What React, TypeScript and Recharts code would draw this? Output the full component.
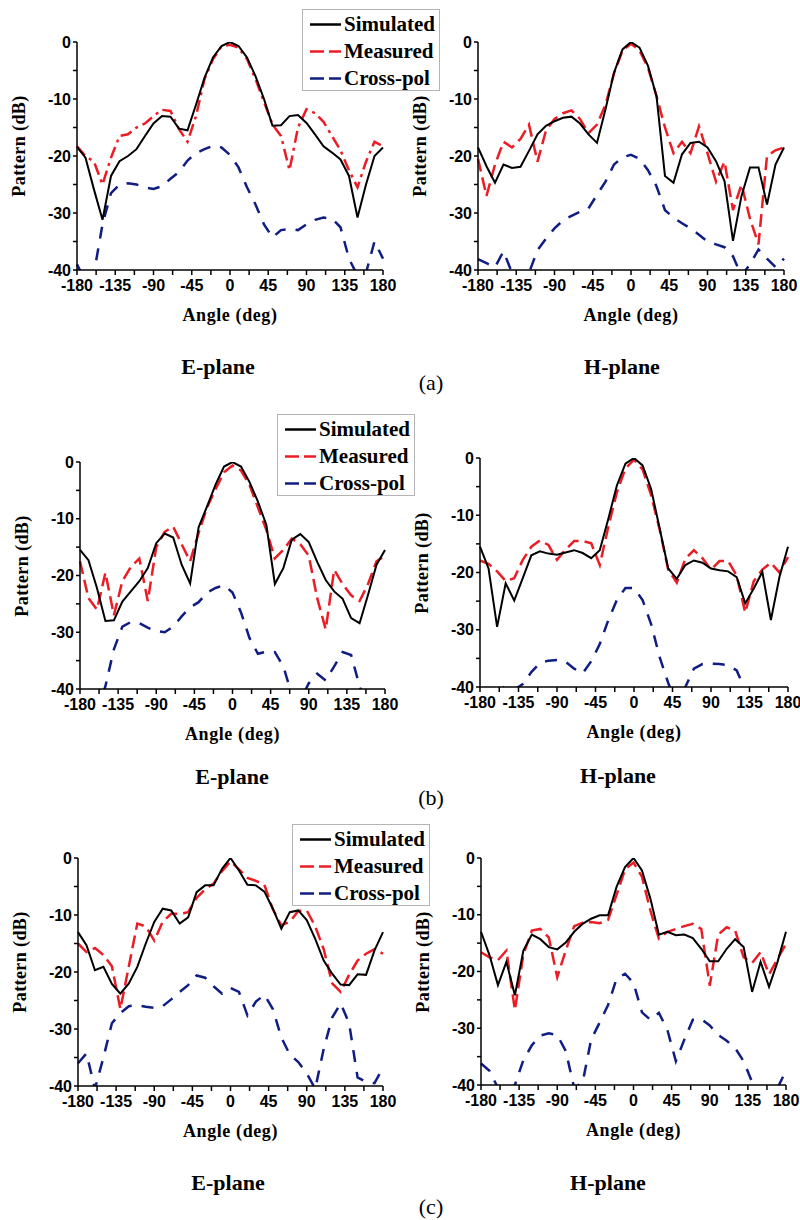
import React from 'react'
import { LineChart, Line, XAxis, YAxis } from 'recharts'

// angle in degrees, one sample every 10 deg
const angles = [
  -180, -170, -160, -150, -140, -130, -120, -110, -100, -90,
  -80, -70, -60, -50, -40, -30, -20, -10, 0,
  10, 20, 30, 40, 50, 60, 70, 80, 90,
  100, 110, 120, 130, 140, 150, 160, 170, 180,
]

const xTicks = [-180, -157.5, -135, -112.5, -90, -67.5, -45, -22.5, 0, 22.5, 45, 67.5, 90, 112.5, 135, 157.5, 180]
const yTicks = [-40, -35, -30, -25, -20, -15, -10, -5, 0]

// (a) E-plane
const aESim = [-18.4, -20.3, -25.9, -31.2, -23.5, -20.9, -20, -18.8, -16.5, -14.3, -13, -13.1, -15.2, -15.5, -11, -6.3, -2.7, -0.7, 0, -0.7, -2.7, -6, -10, -14.7, -14.6, -13, -12.8, -14.2, -16.2, -18.3, -19.4, -20.6, -23.5, -30.8, -25, -20, -18.5]
const aEMeas = [-18.3, -20, -21, -25, -20.3, -16.5, -16.2, -15, -14.3, -13, -11.9, -12.1, -15.3, -17.5, -13, -6.5, -3, -0.8, -0.5, -1, -3, -6.5, -10.5, -14.5, -16.5, -22.5, -15, -11.8, -12.5, -14, -16.5, -19, -22.5, -25.5, -21, -17.5, -18.3]
const aECross = [-39, -42, -40.5, -32, -26.5, -25, -24.8, -25, -25.5, -25.8, -25.3, -24, -22.8, -20.8, -19.5, -18.8, -18.2, -18.5, -19.8, -22, -25.5, -28.5, -32, -34.3, -33, -32.8, -33, -32, -31.2, -30.8, -31, -32.5, -38, -41, -40.5, -35, -38]

// (a) H-plane
const aHSim = [-18.5, -21.8, -24.7, -21.5, -22.1, -21.9, -19.1, -16.2, -14.7, -13.9, -13.3, -13.1, -14.3, -16.2, -17.7, -11.8, -5.4, -1.3, 0, -1, -4.2, -9.5, -23.5, -24.7, -19.7, -17.7, -17.5, -18.5, -20.9, -24.4, -34.9, -27, -22, -22, -28.5, -21.5, -18.5]
const aHMeas = [-20.5, -27, -21.5, -17.5, -18.5, -17, -14.5, -21, -15.5, -13.5, -12.5, -12, -13.5, -16, -14.5, -11, -5.5, -1.5, -0.3, -1.5, -4.5, -9.5, -15, -19.5, -17.5, -19.5, -14.8, -19.5, -24.5, -21, -29.5, -25, -31, -35.5, -20, -19, -18.5]
const aHCross = [-38.1, -38.8, -39.5, -36.7, -40.5, -42, -40.5, -36.5, -34.5, -32.7, -31.3, -30.5, -29.8, -29.2, -26.8, -24.5, -21.5, -20.2, -19.8, -20.5, -22.5, -25.3, -29.5, -30.8, -31.8, -32.7, -33.8, -35, -35.5, -36, -37.6, -41, -39, -36.4, -38, -39.5, -38]

// (b) E-plane
const bESim = [-15.5, -17.3, -22.2, -28, -27.9, -24.6, -22.8, -21, -18.7, -14.3, -12.6, -13.3, -18.1, -21.4, -11.5, -7.8, -4, -0.8, 0, -0.8, -3.5, -7, -11.1, -21.5, -18.7, -13.7, -12.7, -14.1, -17.6, -20.8, -22.8, -24.1, -27.5, -28.4, -23.4, -18.1, -15.5]
const bEMeas = [-17.5, -24, -26, -19.5, -27, -21, -18.5, -17, -24.5, -15, -12.3, -11.4, -14.5, -17.5, -12.5, -8, -4.8, -1.8, -0.6, -1.5, -4, -8, -12, -17, -15.5, -13.5, -14.5, -16.5, -24, -29.5, -19, -21.5, -23.5, -24.5, -21.5, -17.5, -16.5]
const bECross = [-45, -46, -44, -39.5, -33, -29, -28.2, -28.4, -29.2, -29.8, -30, -29, -27.2, -25.6, -24.7, -23, -22.2, -21.7, -23, -26.5, -31, -33.8, -33.4, -33.5, -36, -41, -42, -39, -37.3, -38.5, -36, -33.5, -34, -39.5, -44, -45, -46]

// (b) H-plane
const bHSim = [-15.5, -19.3, -29.5, -21.9, -24.9, -21, -17, -16.3, -16.7, -16.9, -16.5, -16.1, -16.6, -17.5, -16.1, -10.6, -4.8, -1, 0, -1.3, -5.4, -12.3, -19.3, -21.1, -18.7, -17.9, -18.3, -19.3, -19.6, -19.8, -20.8, -25.4, -22.8, -19.9, -28.3, -20.8, -15.5]
const bHMeas = [-17.9, -18.5, -19.8, -21.5, -21, -17.8, -15.5, -14.4, -15.2, -17.8, -16, -14.5, -14.5, -14.9, -18.7, -12, -6, -1.8, -0.3, -2, -6.5, -12.5, -19.5, -21.8, -17.6, -16.1, -17.5, -19.5, -18, -18, -20.5, -27, -21.5, -19.5, -18.3, -20, -17.3]
const bHCross = [-44, -43, -41, -39.8, -40.5, -39.5, -37.4, -35.8, -35.4, -35.3, -35.6, -36.8, -37.6, -35.5, -32.5, -28.3, -24.8, -22.7, -22.7, -24.8, -29, -34.8, -39.3, -43, -40, -36.8, -36, -35.9, -36, -36.2, -37.1, -40.5, -44, -45, -45, -45, -45]

// (c) E-plane
const cESim = [-13, -15.3, -19.7, -19.1, -22.1, -23.8, -22, -19.1, -15, -11.2, -8.9, -9.2, -11.5, -10.4, -6, -4.8, -4.8, -1.9, 0, -2.2, -4.7, -4.8, -5.9, -8.9, -12.4, -9.5, -9.2, -10.9, -14.2, -18, -20.3, -22.2, -22.3, -20.4, -20.5, -16.2, -13]
const cEMeas = [-15, -16.5, -15.8, -17, -19, -26.5, -19, -11.5, -12, -14.5, -11.2, -9.8, -9.8, -9.5, -7, -5.5, -4.5, -2.3, -0.6, -2, -3.5, -4, -4.7, -9, -11.8, -11.2, -9.3, -9.2, -12, -16, -22, -23.5, -20.5, -18, -16.8, -16, -16.8]
const cECross = [-36, -34.3, -40.5, -35, -29, -27.2, -26, -25.8, -26.1, -26.3, -26, -24.8, -23.5, -22.3, -20.6, -21, -22.5, -23.8, -22.8, -23.5, -27.6, -25.2, -24, -26.5, -31.5, -34.5, -35.8, -37.8, -40.5, -33.5, -28, -25.5, -29, -38.5, -39.3, -39.5, -36.8]

// (c) H-plane
const cHSim = [-13, -17.1, -22.4, -18.3, -24.2, -16.3, -13.5, -14.3, -15.7, -16.1, -14.9, -13, -11.6, -10.7, -10.1, -10.1, -5.1, -1.6, 0, -2.2, -7.2, -13.5, -13, -13.6, -13.5, -14.1, -16, -18.2, -18.2, -16, -14.3, -15.7, -23.6, -18.3, -22.7, -18.3, -13]
const cHMeas = [-16.6, -17.5, -18, -16.3, -26.8, -17, -12.8, -12.5, -14, -21, -16.3, -12, -11.4, -11.3, -11.5, -10.9, -6.5, -2, -0.8, -3.3, -9.3, -14.2, -13, -12.5, -12, -11.6, -12.5, -22.5, -13.5, -12.2, -12.8, -17.5, -18.5, -16.6, -20.5, -17.8, -15.1]
const cHCross = [-36.2, -37.5, -40.5, -41.5, -40, -35.6, -33, -31.3, -30.9, -31.2, -34, -40.5, -39.5, -32, -29, -25.9, -21.3, -20.4, -22, -27.2, -28.5, -27.3, -30.3, -35.8, -32, -28.5, -28.4, -29.5, -31.2, -32.2, -33.5, -35.8, -39.5, -41, -41, -40.5, -37.5]

const seriesNames = ['Simulated', 'Measured', 'Cross-pol']

const RED = '#ec1c24'
const NAVY = '#101d82'
const SANS = '"Liberation Sans", Arial, sans-serif'
const SERIF = '"Liberation Serif", "Times New Roman", serif'

const tickStyle = { fill: '#000', fontSize: 16, fontWeight: 700, fontFamily: SANS }
const axisStroke = { stroke: '#000', strokeWidth: 1.5 }

function Txt({ x, y, children, size = 18, bold = true, rotate = false, spacing = 0 }: any) {
  return (
    <div
      style={{
        position: 'absolute', left: x, top: y, whiteSpace: 'nowrap',
        transform: `translate(-50%, -50%)${rotate ? ' rotate(-90deg)' : ''}`,
        fontFamily: SERIF, fontWeight: bold ? 700 : 400, fontSize: size, color: '#000', lineHeight: 1,
        letterSpacing: spacing,
      }}
    >
      {children}
    </div>
  )
}

function PatternPlot({ x0, x1, y0, y1, sim, meas, cross, measDash = '13 6' }: any) {
  const data = angles.map((a, i) => ({ angle: a, sim: sim[i], meas: meas[i], cross: cross[i] }))
  const ml = 60, mt = 10, mr = 24, xh = 40
  return (
    <>
      <div style={{ position: 'absolute', left: x0 - ml, top: y0 - mt }}>
        <LineChart width={x1 - x0 + ml + mr} height={y1 - y0 + mt + xh} data={data} margin={{ top: mt, right: mr, left: 10, bottom: 0 }}>
          <XAxis
            type="number" dataKey="angle" domain={[-180, 180]} ticks={xTicks} interval={0} height={xh}
            tickFormatter={(v: number) => (v % 45 === 0 ? String(v) : '')}
            tick={tickStyle} tickSize={5} tickMargin={5} axisLine={axisStroke} tickLine={axisStroke}
          />
          <YAxis
            type="number" domain={[-40, 0]} allowDataOverflow ticks={yTicks} interval={0} width={50}
            tickFormatter={(v: number) => (v % 10 === 0 ? String(v) : '')}
            tick={tickStyle} tickSize={4} tickMargin={2} axisLine={axisStroke} tickLine={axisStroke}
          />
          <Line type="linear" dataKey="cross" stroke={NAVY} strokeWidth={2.5} strokeDasharray="12 10" dot={false} isAnimationActive={false} />
          <Line type="linear" dataKey="meas" stroke={RED} strokeWidth={2.5} strokeDasharray={measDash} dot={false} isAnimationActive={false} />
          <Line type="linear" dataKey="sim" stroke="#000" strokeWidth={2} dot={false} isAnimationActive={false} />
        </LineChart>
      </div>
      <Txt x={x0 - 58} y={(y0 + y1) / 2 - 10} rotate spacing={0.4}>Pattern (dB)</Txt>
      <Txt x={(x0 + x1) / 2} y={y1 + 45} spacing={0.6}>Angle (deg)</Txt>
    </>
  )
}

function LegendBox({ left, top }: any) {
  const styles = [
    { stroke: '#000', dash: undefined },
    { stroke: RED, dash: '14 5' },
    { stroke: NAVY, dash: '14 5' },
  ]
  return (
    <div style={{ position: 'absolute', left, top, width: 136, height: 80, border: '1px solid #b4b4b4', background: '#fff' }}>
      {seriesNames.map((name, i) => (
        <div key={name} style={{ position: 'absolute', left: 7, top: 14 + i * 27, transform: 'translateY(-50%)', display: 'flex', alignItems: 'center' }}>
          <svg width={31} height={6}>
            <line x1={0} y1={3} x2={31} y2={3} stroke={styles[i].stroke} strokeWidth={2.5} strokeDasharray={styles[i].dash} />
          </svg>
          <span style={{ marginLeft: 3, fontFamily: SERIF, fontWeight: 700, fontSize: 21, lineHeight: 1 }}>{name}</span>
        </div>
      ))}
    </div>
  )
}

export default function App() {
  return (
    <div style={{ position: 'absolute', left: 0, top: 0, width: 800, height: 1220, background: '#fff', overflow: 'hidden' }}>
      {/* (a) */}
      <PatternPlot x0={77} x1={383} y0={42} y1={270} sim={aESim} meas={aEMeas} cross={aECross} measDash="12 5 3 5" />
      <PatternPlot x0={478} x1={784} y0={42} y1={270} sim={aHSim} meas={aHMeas} cross={aHCross} />
      <LegendBox left={302} top={9} />
      <Txt x={218} y={367} size={22}>E-plane</Txt>
      <Txt x={622} y={367} size={22}>H-plane</Txt>
      <Txt x={431} y={383} size={22} bold={false}>(a)</Txt>

      {/* (b) */}
      <PatternPlot x0={80} x1={385} y0={462} y1={689} sim={bESim} meas={bEMeas} cross={bECross} />
      <PatternPlot x0={480} x1={788} y0={458} y1={687} sim={bHSim} meas={bHMeas} cross={bHCross} />
      <LegendBox left={277} top={414} />
      <Txt x={232} y={777} size={22}>E-plane</Txt>
      <Txt x={618} y={776} size={22}>H-plane</Txt>
      <Txt x={431} y={798} size={22} bold={false}>(b)</Txt>

      {/* (c) */}
      <PatternPlot x0={78} x1={383} y0={858} y1={1086} sim={cESim} meas={cEMeas} cross={cECross} />
      <PatternPlot x0={481} x1={786} y0={858} y1={1085} sim={cHSim} meas={cHMeas} cross={cHCross} />
      <LegendBox left={292} top={824} />
      <Txt x={228} y={1183} size={22}>E-plane</Txt>
      <Txt x={608} y={1183} size={22}>H-plane</Txt>
      <Txt x={431} y={1207} size={22} bold={false}>(c)</Txt>
    </div>
  )
}
